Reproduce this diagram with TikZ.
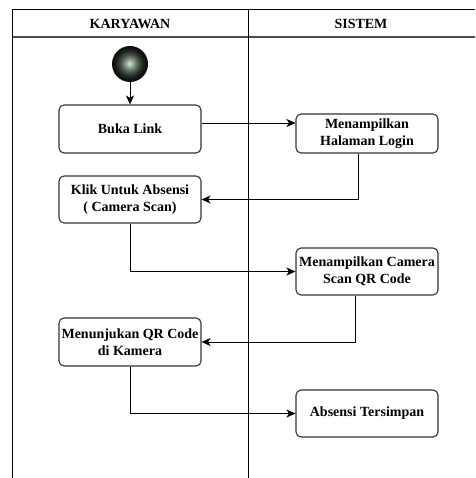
\documentclass[tikz,border=0pt]{standalone}
\usepackage{fontspec}
\setmainfont{Liberation Serif}[BoldFont={Liberation Serif Bold}]
\usetikzlibrary{arrows.meta}
\definecolor{ballc}{RGB}{205,228,205}
\definecolor{ballo}{RGB}{12,14,12}
\begin{document}
\begin{tikzpicture}[x=1pt,y=-1pt,
  act/.style={draw=black!80,line width=1.1pt,rounded corners=5pt,fill=white,
    minimum width=142pt,inner sep=0pt,align=center,
    font=\fontsize{14}{17}\selectfont\bfseries},
  conn/.style={line width=0.9pt,-{Stealth[length=9pt,width=8pt,inset=2.5pt]}},
  lane/.style={line width=1pt},
  hdr/.style={font=\fontsize{14}{17}\selectfont\bfseries}]
\useasboundingbox (0,0) rectangle (475,478);
% swimlanes
\coordinate (tl) at (12,10);
\coordinate (tr) at (475,10);
\coordinate (hl) at (12,37);
\coordinate (hr) at (475,37);
\coordinate (bl) at (12,478);
\coordinate (mt) at (248,10);
\coordinate (mb) at (248,478);
\draw[lane] (tl) -- (tr);
\draw[line width=1.6pt,black!70] (hl) -- (hr);
\draw[lane] (tl) -- (bl);
\draw[lane] (mt) -- (mb);
\node[hdr] (h1) at (130,23.5) {KARYAWAN};
\node[hdr] (h2) at (361,23.5) {SISTEM};
% start
\foreach \i in {0,...,17}{
  \pgfmathsetmacro{\pc}{100*(\i/17)^1.6}
  \fill[ballc!\pc!ballo] (130,64) circle ({18-\i});
}
\node[circle,minimum size=36pt,inner sep=0pt] (start) at (130,64) {};
% activities
\node[act,minimum height=48pt] (buka) at (130,129) {Buka Link};
\node[act,minimum height=39pt] (login) at (367,133.5) {Menampilkan\\Halaman Login};
\node[act,minimum height=47pt] (klik) at (130,199.5) {Klik Untuk Absensi\\( Camera Scan)};
\node[act,minimum height=47pt] (cam) at (367,271.5) {Menampilkan Camera\\Scan QR Code};
\node[act,minimum height=48pt] (qr) at (130,342) {Menunjukan QR Code\\di Kamera};
\node[act,minimum height=47pt] (abs) at (367,413.5) {Absensi Tersimpan};
% connectors
\draw[conn] (start.south) -- (buka.north);
\draw[conn] (buka.east |- 0,123) -- (login.west |- 0,123);
\draw[conn] (login.south -| 358,0) |- (klik.east);
\draw[conn] (klik.south) |- (cam.west);
\draw[conn] (cam.south -| 355,0) |- (qr.east);
\draw[conn] (qr.south) |- (abs.west);
\end{tikzpicture}
\end{document}
